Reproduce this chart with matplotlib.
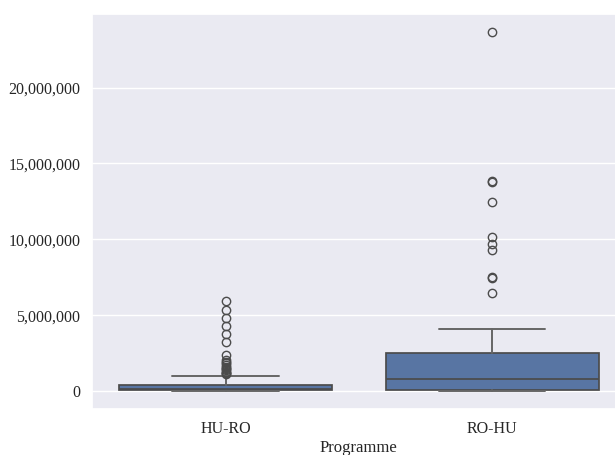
import matplotlib
matplotlib.use("Agg")
import matplotlib.pyplot as plt
import matplotlib.ticker as mticker
import seaborn as sns

# Box statistics
programmes = ["HU-RO", "RO-HU"]
q1 = [50000, 85000]
medians = [150000, 790000]
q3 = [415000, 2540000]
whisker_low = [0, 0]
whisker_high = [1000000, 4070000]
fliers_huro = [5920000, 5330000, 4830000, 4280000, 3740000, 3260000, 2380000,
               2050000, 1900000, 1840000, 1700000, 1620000, 1550000, 1460000,
               1380000, 1290000, 1220000, 1180000, 1120000]
fliers_rohu = [23690000, 13850000, 13800000, 12480000, 10140000, 9700000,
               9270000, 7520000, 7480000, 6490000]

sns.set_theme(style="darkgrid")
plt.rcParams["font.family"] = ["Liberation Serif", "DejaVu Serif"]

fig = plt.figure(figsize=(6.15, 4.55), dpi=100)
ax = fig.add_axes([0.15, 0.101, 0.867, 0.869])

stats = []
all_fliers = [fliers_huro, fliers_rohu]
for i, name in enumerate(programmes):
    stats.append({
        "label": name,
        "q1": q1[i], "med": medians[i], "q3": q3[i],
        "whislo": whisker_low[i], "whishi": whisker_high[i],
        "fliers": all_fliers[i],
    })

box_color = "#5875A3"
line_color = "#4b4b4b"
whisk_color = "#666666"
ax.bxp(stats, positions=[0, 1], widths=0.8, patch_artist=True,
       showfliers=True,
       boxprops=dict(facecolor=box_color, edgecolor=line_color, linewidth=1.25),
       medianprops=dict(color=line_color, linewidth=1.25),
       whiskerprops=dict(color=whisk_color, linewidth=1.4),
       capprops=dict(color=whisk_color, linewidth=1.4),
       capwidths=0.4,
       flierprops=dict(marker="o", markerfacecolor="none",
                       markeredgecolor=line_color, markersize=6,
                       markeredgewidth=1.0))

ax.set_xlim(-0.5, 1.5)
ax.set_ylim(-1180000, 24870000)
ax.set_yticks([0, 5000000, 10000000, 15000000, 20000000])
ax.yaxis.set_major_formatter(mticker.FuncFormatter(lambda v, p: f"{v:,.0f}"))
ax.set_xticks([0, 1])
ax.set_xticklabels(programmes)
ax.tick_params(axis="both", labelsize=11.5, length=0, pad=8.5, colors="#262626")
ax.set_xlabel("Programme", fontsize=12, labelpad=2)
ax.set_ylabel("")
ax.grid(axis="x", visible=False)

fig.savefig("out.png", dpi=100)
